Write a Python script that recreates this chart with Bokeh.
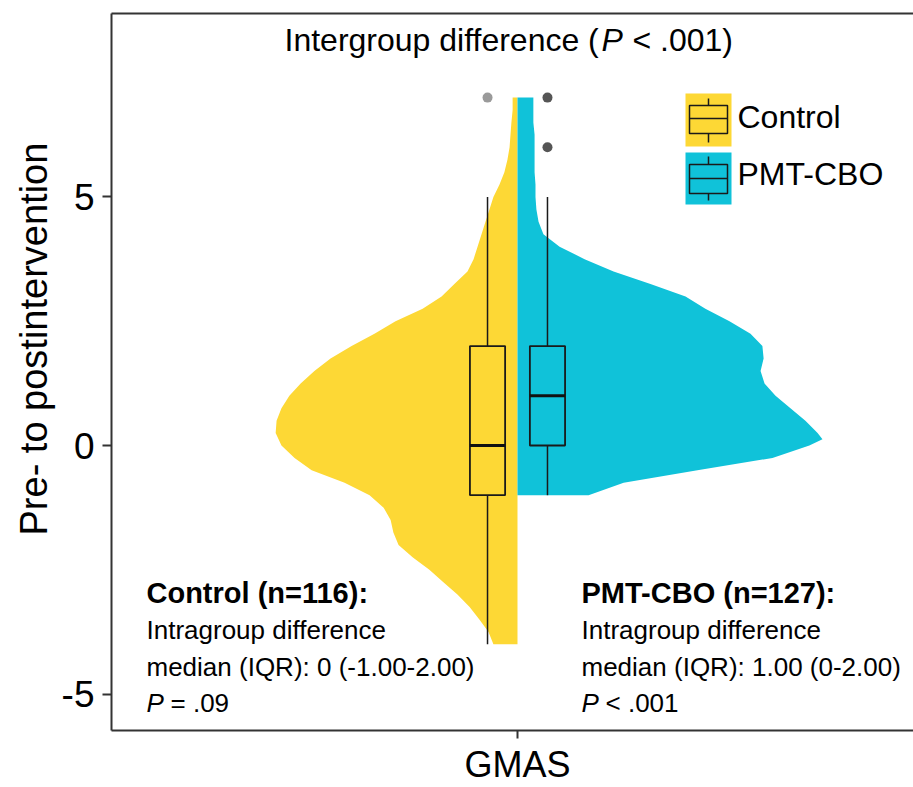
from bokeh.plotting import figure
from bokeh.models import Range1d, FixedTicker, LinearAxis, Label, Title
from bokeh.embed import file_html
from bokeh.resources import INLINE

# ---------------- data ----------------
groups = ["Control", "PMT-CBO"]
colors = ["#FDD835", "#10C2D9"]
outlier_colors = ["#9a9a9a", "#555555"]

# box-plot statistics (pre- to postintervention change, GMAS)
q1 = [-1.0, 0.0]
median = [0.0, 1.0]
q3 = [2.0, 2.0]
whisker_low = [-4.0, -1.0]
whisker_high = [5.0, 5.0]
outliers = [[7.0], [6.0, 7.0]]

# violin densities (relative half-widths)
control_y = [7.0, 6.75, 6.5, 6.25, 6.0, 5.75, 5.5, 5.25, 5.0, 4.75, 4.5, 4.25, 4.0,
             3.75, 3.5, 3.25, 3.0, 2.75, 2.5, 2.25, 2.0, 1.75, 1.5, 1.25, 1.0, 0.75,
             0.5, 0.25, 0.0, -0.25, -0.5, -0.75, -1.0, -1.25, -1.5, -1.75, -2.0,
             -2.25, -2.5, -2.75, -3.0, -3.25, -3.5, -3.75, -4.0]
control_density = [0.016, 0.016, 0.020, 0.023, 0.026, 0.033, 0.043, 0.059, 0.079,
                   0.092, 0.105, 0.118, 0.131, 0.144, 0.164, 0.207, 0.249, 0.311,
                   0.400, 0.469, 0.544, 0.613, 0.666, 0.711, 0.748, 0.774, 0.790,
                   0.793, 0.774, 0.731, 0.675, 0.567, 0.485, 0.439, 0.416, 0.407,
                   0.390, 0.344, 0.289, 0.243, 0.197, 0.157, 0.125, 0.095, 0.079]
pmt_y = [7.0, 6.75, 6.5, 6.25, 6.0, 5.75, 5.5, 5.25, 5.0, 4.75, 4.5, 4.25, 4.0,
         3.75, 3.5, 3.25, 3.0, 2.75, 2.5, 2.25, 2.0, 1.75, 1.5, 1.25, 1.0, 0.75,
         0.5, 0.25, 0.125, 0.0, -0.25, -0.5, -0.75, -1.0]
pmt_density = [0.052, 0.052, 0.052, 0.056, 0.056, 0.056, 0.056, 0.059, 0.059,
               0.062, 0.069, 0.085, 0.138, 0.220, 0.315, 0.436, 0.551, 0.616,
               0.695, 0.764, 0.803, 0.807, 0.797, 0.810, 0.846, 0.895, 0.944,
               0.984, 1.000, 0.957, 0.836, 0.590, 0.348, 0.233]

category = "GMAS"
y_ticks = [-5, 0, 5]
y_tick_labels = {-5: "-5", 0: "0", 5: "5"}
y_label = "Pre- to postintervention"
title_parts = ["Intergroup difference (", "P", "< .001)"]
notes = {
    "Control": ["Control (n=116):", "Intragroup difference",
                "median (IQR): 0 (-1.00-2.00)", "= .09"],
    "PMT-CBO": ["PMT-CBO (n=127):", "Intragroup difference",
                "median (IQR): 1.00 (0-2.00)", "< .001"],
}

# ---------------- layout geometry ----------------
FL, FT, FW, FH = 111, 13, 802, 717
x_lo, x_hi = 0.4, 0.4 + 802 / 676.67
y_lo, y_hi = -5.734, 8.692
CENTER = 1.0
VIOLIN_W = 0.4507      # max half width (data units)
DODGE = 0.0443         # box offset from center
BOX_HALF = 0.026
TXT_SHIFT = 11         # baseline correction (px)


def dx(px):
    return x_lo + (px - FL) * (x_hi - x_lo) / FW


def dy(py):
    return y_hi - (py - FT) * (y_hi - y_lo) / FH


def ty(py):
    return dy(py - TXT_SHIFT)


FONT = "Liberation Sans"

p = figure(frame_width=FW, frame_height=FH, output_backend="svg", toolbar_location=None,
           x_range=Range1d(x_lo, x_hi), y_range=Range1d(y_lo, y_hi),
           min_border_left=FL, min_border_top=FT, min_border_right=0, min_border_bottom=57,
           x_axis_type=None, y_axis_type=None)
p.outline_line_color = None
p.background_fill_color = "white"
p.border_fill_color = "white"
p.xgrid.visible = False
p.ygrid.visible = False

AX_COLOR = "#333333"

yaxis = LinearAxis(ticker=FixedTicker(ticks=y_ticks), major_label_overrides=y_tick_labels)
yaxis.axis_line_color = AX_COLOR
yaxis.axis_line_width = 2
yaxis.major_tick_line_color = AX_COLOR
yaxis.major_tick_line_width = 2
yaxis.major_tick_in = 0
yaxis.major_tick_out = 9
yaxis.minor_tick_line_color = None
yaxis.major_label_text_font = FONT
yaxis.major_label_text_font_size = "37px"
yaxis.major_label_text_color = "black"
yaxis.major_label_standoff = 8
p.add_layout(yaxis, "left")

# y axis title, placed like in the reference (starts 195 px above the frame bottom)
ytitle = Title(text=y_label, align="left", offset=195, standoff=8,
               text_font=FONT, text_font_size="38px", text_font_style="normal",
               text_color="black")
p.add_layout(ytitle, "left")

xaxis = LinearAxis(ticker=FixedTicker(ticks=[CENTER]), major_label_overrides={1: category})
xaxis.axis_line_color = AX_COLOR
xaxis.axis_line_width = 2
xaxis.major_tick_line_color = AX_COLOR
xaxis.major_tick_line_width = 2
xaxis.major_tick_in = 0
xaxis.major_tick_out = 8
xaxis.minor_tick_line_color = None
xaxis.major_label_text_font = FONT
xaxis.major_label_text_font_size = "36px"
xaxis.major_label_text_color = "black"
xaxis.major_label_standoff = 5
p.add_layout(xaxis, "below")

topaxis = LinearAxis(ticker=FixedTicker(ticks=[]))
topaxis.axis_line_color = AX_COLOR
topaxis.axis_line_width = 2
topaxis.major_tick_line_color = None
topaxis.minor_tick_line_color = None
topaxis.major_label_text_font_size = "0px"
topaxis.major_label_standoff = 0
topaxis.major_tick_out = 0
topaxis.major_tick_in = 0
p.add_layout(topaxis, "above")

# ---------------- violins ----------------
p.harea(y=control_y, x1=[CENTER - d * VIOLIN_W for d in control_density],
        x2=[CENTER] * len(control_y), fill_color=colors[0], fill_alpha=1)
p.harea(y=pmt_y, x1=[CENTER] * len(pmt_y),
        x2=[CENTER + d * VIOLIN_W for d in pmt_density], fill_color=colors[1], fill_alpha=1)

# ---------------- box plots ----------------
for i, g in enumerate(groups):
    xc = CENTER - DODGE if i == 0 else CENTER + DODGE
    p.segment(x0=[xc, xc], y0=[whisker_low[i], q3[i]], x1=[xc, xc], y1=[q1[i], whisker_high[i]],
              line_color="#1a1a1a", line_width=1.5)
    p.quad(left=[xc - BOX_HALF], right=[xc + BOX_HALF], bottom=[q1[i]], top=[q3[i]],
           fill_color=colors[i], line_color="#1a1a1a", line_width=1.8)
    p.segment(x0=[xc - BOX_HALF], x1=[xc + BOX_HALF], y0=[median[i]], y1=[median[i]],
              line_color="#111111", line_width=3)
    p.scatter(x=[xc] * len(outliers[i]), y=outliers[i], size=10,
              fill_color=outlier_colors[i], line_color=None)

# ---------------- legend (drawn by hand) ----------------
legend_rows = [(93, 146, 105, 133, 118, 98, 142, 128),
               (152, 204, 164, 193, 178, 156, 200, 185)]
for i, g in enumerate(groups):
    kt, kb, bt, bb, bm, wt, wb, base = legend_rows[i]
    p.quad(left=[dx(685)], right=[dx(731)], top=[dy(kt)], bottom=[dy(kb)],
           fill_color=colors[i], line_color=None)
    p.segment(x0=[dx(708), dx(708)], x1=[dx(708), dx(708)], y0=[dy(wt), dy(bb)], y1=[dy(bt), dy(wb)],
              line_color="#1a1a1a", line_width=1.5)
    p.quad(left=[dx(689)], right=[dx(727)], top=[dy(bt)], bottom=[dy(bb)],
           fill_color=None, line_color="#1a1a1a", line_width=1.5)
    p.segment(x0=[dx(689)], x1=[dx(727)], y0=[dy(bm)], y1=[dy(bm)], line_color="#1a1a1a", line_width=1.5)
    p.add_layout(Label(x=dx(737), y=ty(base - 1), text=g, text_font=FONT, text_font_size="32px",
                       text_color="black", text_baseline="alphabetic", text_align="left"))

# ---------------- title ----------------
p.add_layout(Label(x=dx(284), y=ty(50), text=title_parts[0], text_font=FONT, text_font_size="32px",
                   text_color="black", text_baseline="alphabetic"))
p.add_layout(Label(x=dx(601), y=ty(50), text=title_parts[1], text_font=FONT, text_font_size="32px",
                   text_font_style="italic", text_color="black", text_baseline="alphabetic"))
p.add_layout(Label(x=dx(632), y=ty(50), text=title_parts[2], text_font=FONT, text_font_size="32px",
                   text_color="black", text_baseline="alphabetic"))

# ---------------- group notes ----------------
note_x = {"Control": 146, "PMT-CBO": 581}
baselines = [603, 640, 677, 713]
for g in groups:
    lines = notes[g]
    x0 = note_x[g]
    p.add_layout(Label(x=dx(x0), y=ty(baselines[0]), text=lines[0], text_font=FONT,
                       text_font_size="29px", text_font_style="bold", text_color="black",
                       text_baseline="alphabetic"))
    for k in (1, 2):
        p.add_layout(Label(x=dx(x0), y=ty(baselines[k]), text=lines[k], text_font=FONT,
                           text_font_size="26px", text_color="black", text_baseline="alphabetic"))
    p.add_layout(Label(x=dx(x0), y=ty(baselines[3]), text="P", text_font=FONT,
                       text_font_size="26px", text_font_style="italic", text_color="black",
                       text_baseline="alphabetic"))
    p.add_layout(Label(x=dx(x0 + 24), y=ty(baselines[3]), text=lines[3], text_font=FONT,
                       text_font_size="26px", text_color="black", text_baseline="alphabetic"))

open("out.html", "w").write(file_html(p, INLINE))
